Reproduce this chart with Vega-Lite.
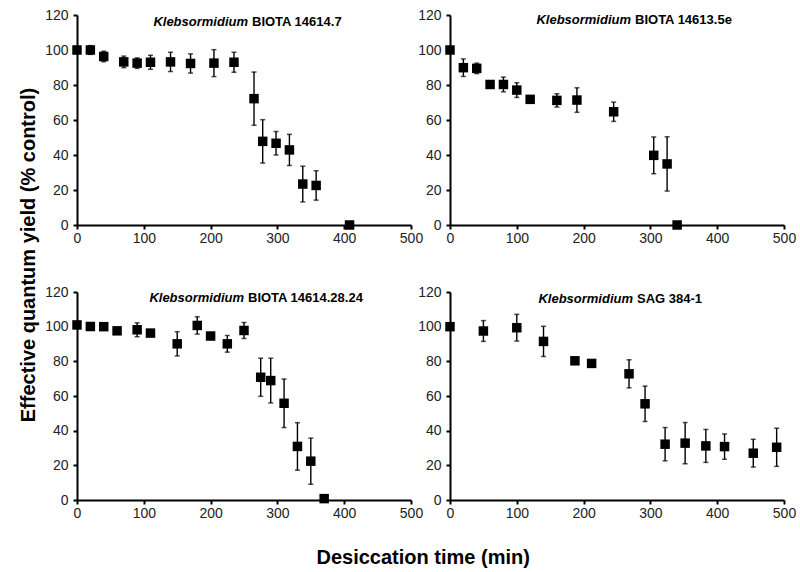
{
  "$schema": "https://vega.github.io/schema/vega-lite/v6.json",
  "background": "white",
  "padding": {"left": 18, "top": 8, "right": 5, "bottom": 5},
  "config": {
    "view": {"stroke": null},
    "font": "Liberation Sans",
    "scale": {"continuousPadding": 0},
    "axis": {
      "grid": false, "domainColor": "black", "domainWidth": 2, "tickColor": "black", "tickWidth": 2, "tickSize": 4,
      "labelFont": "Liberation Sans", "labelFontSize": 14, "labelColor": "#222", "labelOverlap": false, "labelFlush": false
    },
    "axisX": {"labelPadding": 2},
    "axisY": {"labelPadding": 5}
  },
  "datasets": {
    "p1": [
      {"t": 0, "v": 100, "e": 2}, {"t": 20, "v": 100, "e": 2.5}, {"t": 40, "v": 96.3, "e": 3}, {"t": 70, "v": 93.2, "e": 3.3},
      {"t": 90, "v": 92.5, "e": 3}, {"t": 110, "v": 93, "e": 4}, {"t": 140, "v": 93.2, "e": 5.5}, {"t": 170, "v": 92.3, "e": 5.5},
      {"t": 205, "v": 92.5, "e": 7.7}, {"t": 235, "v": 93, "e": 5.7}, {"t": 265, "v": 72.2, "e": 15.2}, {"t": 278, "v": 47.8, "e": 12.4},
      {"t": 298, "v": 46.7, "e": 6.7}, {"t": 318, "v": 42.9, "e": 8.9}, {"t": 338, "v": 23.4, "e": 10.2}, {"t": 358, "v": 22.6, "e": 8.4},
      {"t": 408, "v": 0, "e": 0}
    ],
    "p2": [
      {"t": 0, "v": 100, "e": 0}, {"t": 20, "v": 89.9, "e": 5}, {"t": 40, "v": 89.5, "e": 3}, {"t": 60, "v": 80.3, "e": 1.5},
      {"t": 80, "v": 80.3, "e": 4.2}, {"t": 100, "v": 77.1, "e": 4.2}, {"t": 120, "v": 71.8, "e": 0}, {"t": 160, "v": 71.2, "e": 3.8},
      {"t": 190, "v": 71.4, "e": 7}, {"t": 245, "v": 64.7, "e": 5.5}, {"t": 305, "v": 39.8, "e": 10.5}, {"t": 325, "v": 34.9, "e": 15.5},
      {"t": 340, "v": 0, "e": 0}
    ],
    "p3": [
      {"t": 0, "v": 101, "e": 0}, {"t": 20, "v": 100.1, "e": 0}, {"t": 40, "v": 100, "e": 0}, {"t": 60, "v": 97.6, "e": 0},
      {"t": 90, "v": 98.2, "e": 4}, {"t": 110, "v": 96.3, "e": 0}, {"t": 150, "v": 90.1, "e": 7}, {"t": 180, "v": 100.7, "e": 5},
      {"t": 200, "v": 94.6, "e": 0}, {"t": 225, "v": 90.1, "e": 4.8}, {"t": 250, "v": 97.8, "e": 4.6}, {"t": 275, "v": 70.8, "e": 11},
      {"t": 290, "v": 68.9, "e": 12.9}, {"t": 310, "v": 55.8, "e": 14}, {"t": 330, "v": 30.9, "e": 13.7}, {"t": 350, "v": 22.4, "e": 13.3},
      {"t": 370, "v": 0.8, "e": 0}
    ],
    "p4": [
      {"t": 0, "v": 100, "e": 0}, {"t": 50, "v": 97.5, "e": 6}, {"t": 100, "v": 99.4, "e": 7.7}, {"t": 140, "v": 91.5, "e": 8.7},
      {"t": 187, "v": 80.3, "e": 0}, {"t": 212, "v": 78.8, "e": 0}, {"t": 268, "v": 72.8, "e": 8.1}, {"t": 292, "v": 55.5, "e": 10.2},
      {"t": 322, "v": 32.2, "e": 9.6}, {"t": 352, "v": 32.8, "e": 11.9}, {"t": 383, "v": 31.2, "e": 9.5}, {"t": 411, "v": 30.8, "e": 7.3},
      {"t": 454, "v": 27, "e": 8}, {"t": 489, "v": 30.4, "e": 11}
    ],
    "titles": [
      {"panel": 1, "genus": "Klebsormidium", "strain": "BIOTA 14614.7"},
      {"panel": 2, "genus": "Klebsormidium", "strain": "BIOTA 14613.5e"},
      {"panel": 3, "genus": "Klebsormidium", "strain": "BIOTA 14614.28.24"},
      {"panel": 4, "genus": "Klebsormidium", "strain": "SAG 384-1"}
    ]
  },
  "title": {"text": "Desiccation time (min)", "orient": "bottom", "anchor": "middle", "fontSize": 20, "font": "Liberation Sans", "fontWeight": "bold", "color": "black", "offset": 28, "dx": 16},
  "vconcat": [
    {
      "title": {"text": "Effective quantum yield (% control)", "orient": "left", "anchor": "middle", "fontSize": 20, "font": "Liberation Sans", "fontWeight": "bold", "color": "black", "offset": 6, "dx": 9},
      "spacing": 40,
      "vconcat": [
        {
          "spacing": 39,
          "bounds": "flush",
          "hconcat": [
            {
              "width": 334, "height": 210,
              "layer": [
                {
                  "data": {"name": "p1"},
                  "encoding": {
                    "x": {"field": "t", "type": "quantitative", "scale": {"domain": [0, 500], "nice": false, "zero": false, "padding": 0}, "axis": {"values": [0, 100, 200, 300, 400, 500], "title": null}},
                    "y": {"field": "v", "type": "quantitative", "scale": {"domain": [0, 120], "nice": false, "zero": false, "padding": 0}, "axis": {"values": [0, 20, 40, 60, 80, 100, 120], "title": null}}
                  },
                  "layer": [
                    {"mark": {"type": "errorbar", "color": "black", "ticks": {"size": 5, "thickness": 1.5}, "rule": {"strokeWidth": 1.4}}, "encoding": {"yError": {"field": "e"}}},
                    {"mark": {"type": "square", "filled": true, "color": "black", "opacity": 1, "size": 90}, "encoding": {}}
                  ]
                },
                {"data": {"name": "titles"}, "transform": [{"filter": "datum.panel == 1"}],
                 "mark": {"type": "text", "align": "right", "baseline": "middle", "fontStyle": "italic", "fontWeight": "bold", "fontSize": 13, "color": "black", "dx": -2},
                 "encoding": {"x": {"datum": 259, "type": "quantitative", "scale": {"domain": [0, 500], "nice": false, "zero": false, "padding": 0}, "axis": {"values": [0, 100, 200, 300, 400, 500], "title": null}},
                              "y": {"datum": 116, "type": "quantitative", "scale": {"domain": [0, 120], "nice": false, "zero": false, "padding": 0}, "axis": {"values": [0, 20, 40, 60, 80, 100, 120], "title": null}},
                              "text": {"field": "genus"}}},
                {"data": {"name": "titles"}, "transform": [{"filter": "datum.panel == 1"}],
                 "mark": {"type": "text", "align": "left", "baseline": "middle", "fontWeight": "bold", "fontSize": 13, "color": "black", "dx": 2},
                 "encoding": {"x": {"datum": 259, "type": "quantitative", "scale": {"domain": [0, 500], "nice": false, "zero": false, "padding": 0}, "axis": {"values": [0, 100, 200, 300, 400, 500], "title": null}},
                              "y": {"datum": 116, "type": "quantitative", "scale": {"domain": [0, 120], "nice": false, "zero": false, "padding": 0}, "axis": {"values": [0, 20, 40, 60, 80, 100, 120], "title": null}},
                              "text": {"field": "strain"}}}
              ]
            },
            {
              "width": 334, "height": 210,
              "layer": [
                {
                  "data": {"name": "p2"},
                  "encoding": {
                    "x": {"field": "t", "type": "quantitative", "scale": {"domain": [0, 500], "nice": false, "zero": false, "padding": 0}, "axis": {"values": [0, 100, 200, 300, 400, 500], "title": null}},
                    "y": {"field": "v", "type": "quantitative", "scale": {"domain": [0, 120], "nice": false, "zero": false, "padding": 0}, "axis": {"values": [0, 20, 40, 60, 80, 100, 120], "title": null}}
                  },
                  "layer": [
                    {"mark": {"type": "errorbar", "color": "black", "ticks": {"size": 5, "thickness": 1.5}, "rule": {"strokeWidth": 1.4}}, "encoding": {"yError": {"field": "e"}}},
                    {"mark": {"type": "square", "filled": true, "color": "black", "opacity": 1, "size": 90}, "encoding": {}}
                  ]
                },
                {"data": {"name": "titles"}, "transform": [{"filter": "datum.panel == 2"}],
                 "mark": {"type": "text", "align": "right", "baseline": "middle", "fontStyle": "italic", "fontWeight": "bold", "fontSize": 13, "color": "black", "dx": -2},
                 "encoding": {"x": {"datum": 274, "type": "quantitative", "scale": {"domain": [0, 500], "nice": false, "zero": false, "padding": 0}, "axis": {"values": [0, 100, 200, 300, 400, 500], "title": null}},
                              "y": {"datum": 117.4, "type": "quantitative", "scale": {"domain": [0, 120], "nice": false, "zero": false, "padding": 0}, "axis": {"values": [0, 20, 40, 60, 80, 100, 120], "title": null}},
                              "text": {"field": "genus"}}},
                {"data": {"name": "titles"}, "transform": [{"filter": "datum.panel == 2"}],
                 "mark": {"type": "text", "align": "left", "baseline": "middle", "fontWeight": "bold", "fontSize": 13, "color": "black", "dx": 2},
                 "encoding": {"x": {"datum": 274, "type": "quantitative", "scale": {"domain": [0, 500], "nice": false, "zero": false, "padding": 0}, "axis": {"values": [0, 100, 200, 300, 400, 500], "title": null}},
                              "y": {"datum": 117.4, "type": "quantitative", "scale": {"domain": [0, 120], "nice": false, "zero": false, "padding": 0}, "axis": {"values": [0, 20, 40, 60, 80, 100, 120], "title": null}},
                              "text": {"field": "strain"}}}
              ]
            }
          ]
        },
        {
          "spacing": 39,
          "bounds": "flush",
          "hconcat": [
            {
              "width": 334, "height": 208,
              "layer": [
                {
                  "data": {"name": "p3"},
                  "encoding": {
                    "x": {"field": "t", "type": "quantitative", "scale": {"domain": [0, 500], "nice": false, "zero": false, "padding": 0}, "axis": {"values": [0, 100, 200, 300, 400, 500], "title": null}},
                    "y": {"field": "v", "type": "quantitative", "scale": {"domain": [0, 120], "nice": false, "zero": false, "padding": 0}, "axis": {"values": [0, 20, 40, 60, 80, 100, 120], "title": null}}
                  },
                  "layer": [
                    {"mark": {"type": "errorbar", "color": "black", "ticks": {"size": 5, "thickness": 1.5}, "rule": {"strokeWidth": 1.4}}, "encoding": {"yError": {"field": "e"}}},
                    {"mark": {"type": "square", "filled": true, "color": "black", "opacity": 1, "size": 90}, "encoding": {}}
                  ]
                },
                {"data": {"name": "titles"}, "transform": [{"filter": "datum.panel == 3"}],
                 "mark": {"type": "text", "align": "right", "baseline": "middle", "fontStyle": "italic", "fontWeight": "bold", "fontSize": 13, "color": "black", "dx": -2},
                 "encoding": {"x": {"datum": 253, "type": "quantitative", "scale": {"domain": [0, 500], "nice": false, "zero": false, "padding": 0}, "axis": {"values": [0, 100, 200, 300, 400, 500], "title": null}},
                              "y": {"datum": 116.4, "type": "quantitative", "scale": {"domain": [0, 120], "nice": false, "zero": false, "padding": 0}, "axis": {"values": [0, 20, 40, 60, 80, 100, 120], "title": null}},
                              "text": {"field": "genus"}}},
                {"data": {"name": "titles"}, "transform": [{"filter": "datum.panel == 3"}],
                 "mark": {"type": "text", "align": "left", "baseline": "middle", "fontWeight": "bold", "fontSize": 13, "color": "black", "dx": 2},
                 "encoding": {"x": {"datum": 253, "type": "quantitative", "scale": {"domain": [0, 500], "nice": false, "zero": false, "padding": 0}, "axis": {"values": [0, 100, 200, 300, 400, 500], "title": null}},
                              "y": {"datum": 116.4, "type": "quantitative", "scale": {"domain": [0, 120], "nice": false, "zero": false, "padding": 0}, "axis": {"values": [0, 20, 40, 60, 80, 100, 120], "title": null}},
                              "text": {"field": "strain"}}}
              ]
            },
            {
              "width": 334, "height": 208,
              "layer": [
                {
                  "data": {"name": "p4"},
                  "encoding": {
                    "x": {"field": "t", "type": "quantitative", "scale": {"domain": [0, 500], "nice": false, "zero": false, "padding": 0}, "axis": {"values": [0, 100, 200, 300, 400, 500], "title": null}},
                    "y": {"field": "v", "type": "quantitative", "scale": {"domain": [0, 120], "nice": false, "zero": false, "padding": 0}, "axis": {"values": [0, 20, 40, 60, 80, 100, 120], "title": null}}
                  },
                  "layer": [
                    {"mark": {"type": "errorbar", "color": "black", "ticks": {"size": 5, "thickness": 1.5}, "rule": {"strokeWidth": 1.4}}, "encoding": {"yError": {"field": "e"}}},
                    {"mark": {"type": "square", "filled": true, "color": "black", "opacity": 1, "size": 90}, "encoding": {}}
                  ]
                },
                {"data": {"name": "titles"}, "transform": [{"filter": "datum.panel == 4"}],
                 "mark": {"type": "text", "align": "right", "baseline": "middle", "fontStyle": "italic", "fontWeight": "bold", "fontSize": 13, "color": "black", "dx": -2},
                 "encoding": {"x": {"datum": 277, "type": "quantitative", "scale": {"domain": [0, 500], "nice": false, "zero": false, "padding": 0}, "axis": {"values": [0, 100, 200, 300, 400, 500], "title": null}},
                              "y": {"datum": 116.2, "type": "quantitative", "scale": {"domain": [0, 120], "nice": false, "zero": false, "padding": 0}, "axis": {"values": [0, 20, 40, 60, 80, 100, 120], "title": null}},
                              "text": {"field": "genus"}}},
                {"data": {"name": "titles"}, "transform": [{"filter": "datum.panel == 4"}],
                 "mark": {"type": "text", "align": "left", "baseline": "middle", "fontWeight": "bold", "fontSize": 13, "color": "black", "dx": 2},
                 "encoding": {"x": {"datum": 277, "type": "quantitative", "scale": {"domain": [0, 500], "nice": false, "zero": false, "padding": 0}, "axis": {"values": [0, 100, 200, 300, 400, 500], "title": null}},
                              "y": {"datum": 116.2, "type": "quantitative", "scale": {"domain": [0, 120], "nice": false, "zero": false, "padding": 0}, "axis": {"values": [0, 20, 40, 60, 80, 100, 120], "title": null}},
                              "text": {"field": "strain"}}}
              ]
            }
          ]
        }
      ]
    }
  ]
}
